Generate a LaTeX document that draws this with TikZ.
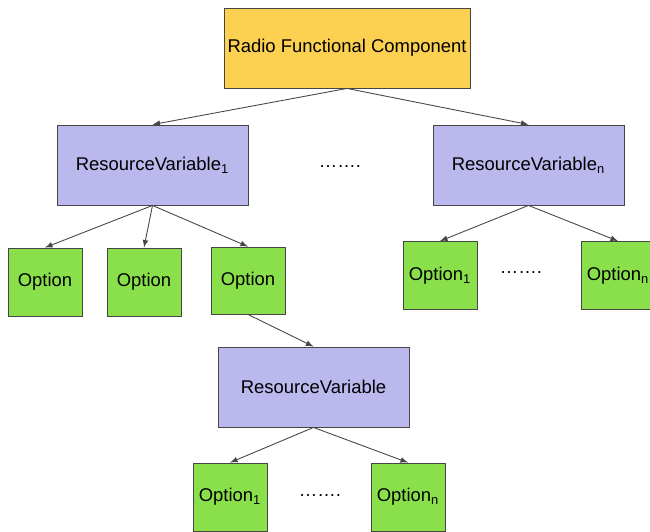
\documentclass[tikz,border=0pt]{standalone}
\usepackage{fontspec}
\setmainfont{Liberation Sans}
\usepackage{tikz}

\definecolor{rfcyellow}{RGB}{252,208,80}
\definecolor{rvpurple}{RGB}{187,184,238}
\definecolor{optgreen}{RGB}{138,224,74}
\definecolor{edgegrey}{RGB}{70,70,70}

\tikzset{
	box/.style={draw=edgegrey,line width=0.5pt,inner sep=0pt,font=\fontsize{10.5}{12}\selectfont},
	rfcbox/.style={box,fill=rfcyellow,minimum width=4.92cm,minimum height=1.6cm},
	varbox/.style={box,fill=rvpurple,minimum width=3.82cm,minimum height=1.6cm},
	optbox/.style={box,fill=optgreen,minimum width=1.48cm,minimum height=1.36cm},
	link/.style={->,>=latex,draw=edgegrey,line width=0.5pt},
	gap/.style={font=\fontsize{10.5}{12}\selectfont}
}

\begin{document}
\begin{tikzpicture}
	\useasboundingbox (0,0) rectangle (13,-10.62);
	\node[rfcbox] (rfc) at (6.94,-0.96) {Radio Functional Component};
	%
	\node[varbox] (rv1) at (3.05,-3.3) {ResourceVariable\textsubscript{1}};
	\node[varbox] (rvn) at (10.57,-3.3) {ResourceVariable\textsubscript{n}};
	\node[gap] (dotsrv) at (6.8,-3.34) {…….};
		\draw[link] (rfc.south) -- (rv1.north);
		\draw[link] (rfc.south) -- (rvn.north);
	%
	\node[optbox] (opta) at (0.9,-5.64) {Option};
	\node[optbox] (optb) at (2.88,-5.64) {Option};
	\node[optbox,minimum height=1.34cm] (optc) at (4.96,-5.61) {Option};
		\draw[link] (rv1.south) -- (opta.north);
		\draw[link] (rv1.south) -- (optb.north);
		\draw[link] (rv1.south) -- (optc.north);
	%
	\node[optbox] (optr1) at (8.8,-5.51) {Option\textsubscript{1}};
	\node[optbox] (optrn) at (12.36,-5.51) {Option\textsubscript{n}};
	\node[gap] (dotsr) at (10.42,-5.46) {…….};
		\draw[link] (rvn.south) -- (optr1.north);
		\draw[link] (rvn.south) -- (optrn.north);
	%
	\node[varbox] (rvsub) at (6.27,-7.74) {ResourceVariable};
		\draw[link] (optc.south) -- (rvsub.north);
	%
	\node[optbox] (optb1) at (4.6,-9.94) {Option\textsubscript{1}};
	\node[optbox] (optbn) at (8.16,-9.94) {Option\textsubscript{n}};
	\node[gap] (dotsb) at (6.4,-9.9) {…….};
		\draw[link] (rvsub.south) -- (optb1.north);
		\draw[link] (rvsub.south) -- (optbn.north);
\end{tikzpicture}
\end{document}
